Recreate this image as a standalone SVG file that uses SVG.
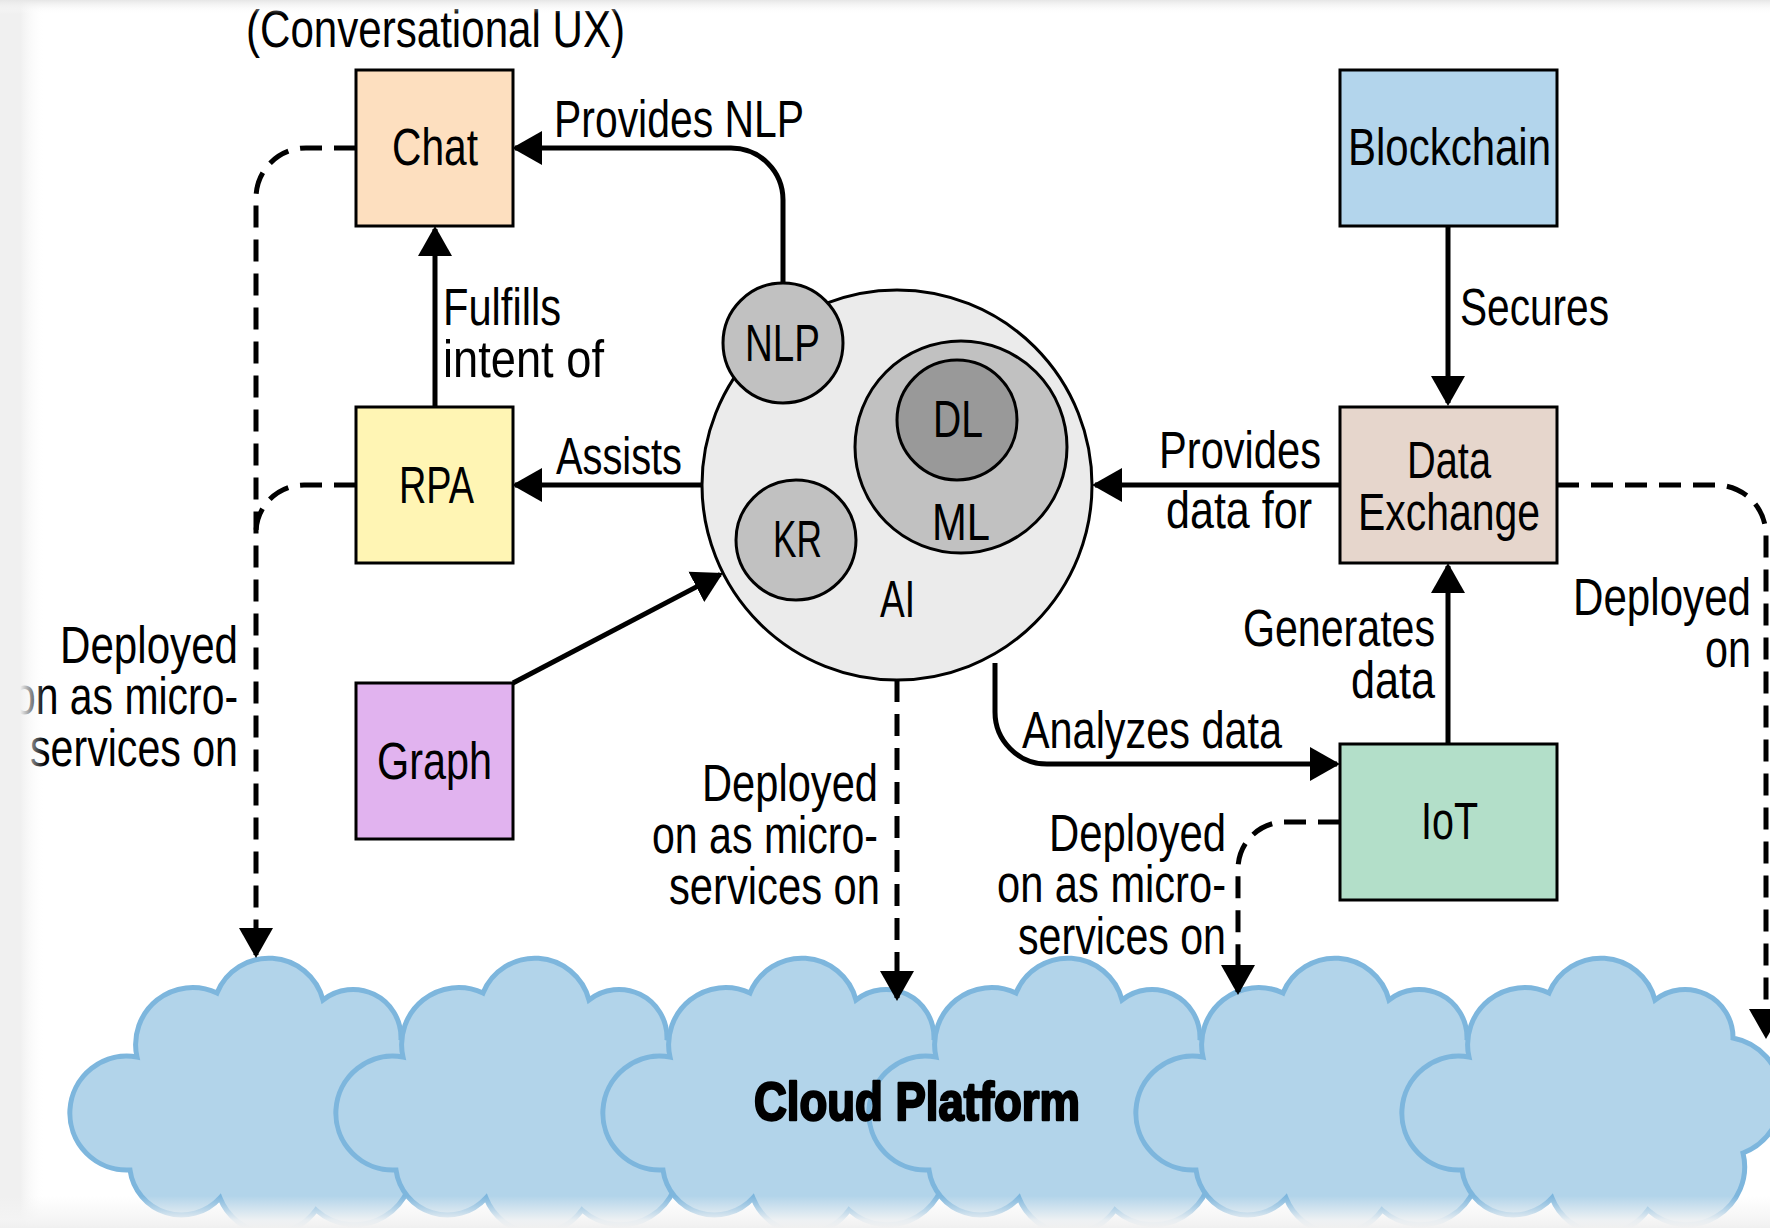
<svg xmlns="http://www.w3.org/2000/svg" xmlns:xlink="http://www.w3.org/1999/xlink" width="1770" height="1228" viewBox="0 0 1770 1228">
<style>
.box{stroke:#000;stroke-width:3}
.circ{stroke:#000;stroke-width:3}
.t{font-family:"Liberation Sans",Arial,sans-serif;font-size:51px;fill:#000}
.tb{font-family:"Liberation Sans",Arial,sans-serif;font-size:54px;font-weight:bold;fill:#000;stroke:#000;stroke-width:2.4;stroke-linejoin:round}
.edge{fill:none;stroke:#000;stroke-width:5}
.dash{stroke-dasharray:22 12}
.cl{fill:#b2d4ea;stroke:#7db6dd;stroke-width:5}
</style>
<defs>
<marker id="ah" markerUnits="userSpaceOnUse" viewBox="0 0 30 36" markerWidth="30" markerHeight="36" refX="27" refY="18" orient="auto">
<path d="M0,1 L30,18 L0,35 Z" fill="#000" stroke="none"/>
</marker>
<path id="cloudshape" d="M62,1170 A57,57 0 1 1 69,1057 A57,57 0 0 1 149,993 A56,56 0 0 1 255,1000 A48,48 0 0 1 333,1038 A60,60 0 0 1 343,1153 A58,58 0 0 1 248,1210 A55,55 0 0 1 152,1198 A52,52 0 0 1 62,1170 Z"/>
<linearGradient id="gl" x1="0" y1="0" x2="1" y2="0">
<stop offset="0" stop-color="#f0f0f0" stop-opacity="1"/>
<stop offset="0.45" stop-color="#f0f0f0" stop-opacity="1"/>
<stop offset="1" stop-color="#ffffff" stop-opacity="0"/>
</linearGradient>
<linearGradient id="gt" x1="0" y1="0" x2="0" y2="1">
<stop offset="0" stop-color="#e6e6e6" stop-opacity="1"/>
<stop offset="1" stop-color="#ffffff" stop-opacity="0"/>
</linearGradient>
<linearGradient id="gb" x1="0" y1="0" x2="0" y2="1">
<stop offset="0" stop-color="#f4f4f4" stop-opacity="0"/>
<stop offset="0.75" stop-color="#f4f4f4" stop-opacity="0.9"/>
<stop offset="1" stop-color="#f0f0f0" stop-opacity="1"/>
</linearGradient>
</defs>
<rect x="0" y="0" width="1770" height="1228" fill="#ffffff"/>

<g id="cloud">
<use xlink:href="#cloudshape" href="#cloudshape" class="cl" transform="translate(68,0)"/>
<use xlink:href="#cloudshape" href="#cloudshape" class="cl" transform="translate(334,0)"/>
<use xlink:href="#cloudshape" href="#cloudshape" class="cl" transform="translate(601,0)"/>
<use xlink:href="#cloudshape" href="#cloudshape" class="cl" transform="translate(867,0)"/>
<use xlink:href="#cloudshape" href="#cloudshape" class="cl" transform="translate(1134,0)"/>
<use xlink:href="#cloudshape" href="#cloudshape" class="cl" transform="translate(1400,0)"/>
<text class="tb" x="754" y="1120" textLength="326" lengthAdjust="spacingAndGlyphs">Cloud Platform</text>
</g>

<g id="connectors">
<path class="edge" d="M783,283 L783,200 A52,52 0 0 0 731,148 L515,148" marker-end="url(#ah)"/>
<path class="edge" d="M435,407 L435,229" marker-end="url(#ah)"/>
<path class="edge" d="M702,485 L515,485" marker-end="url(#ah)"/>
<path class="edge" d="M513,683 L720.3,574.4" marker-end="url(#ah)"/>
<path class="edge" d="M1448,226 L1448,403" marker-end="url(#ah)"/>
<path class="edge" d="M1340,485 L1095,485" marker-end="url(#ah)"/>
<path class="edge" d="M1448,743 L1448,566" marker-end="url(#ah)"/>
<path class="edge" d="M995,663 L995,712 A52,52 0 0 0 1047,764 L1337,764" marker-end="url(#ah)"/>
<path class="edge dash" d="M356,148 L306,148 A50,50 0 0 0 256,198 L256,955" marker-end="url(#ah)"/>
<path class="edge dash" d="M356,485 L304,485 A48,48 0 0 0 256,533"/>
<path class="edge dash" d="M897,680 L897,998" marker-end="url(#ah)"/>
<path class="edge dash" d="M1340,822 L1285,822 A47,47 0 0 0 1238,869 L1238,992" marker-end="url(#ah)"/>
<path class="edge dash" d="M1557,485 L1716,485 A50,50 0 0 1 1766,535 L1766,1036" marker-end="url(#ah)"/>
</g>

<g id="chat">
<rect class="box" x="356" y="70" width="157" height="156" fill="#fddfbf"/>
<text class="t" x="392" y="165" textLength="86" lengthAdjust="spacingAndGlyphs">Chat</text>
<text class="t" x="246" y="47" textLength="379" lengthAdjust="spacingAndGlyphs">(Conversational UX)</text>
</g>
<g id="rpa">
<rect class="box" x="356" y="407" width="157" height="156" fill="#fff5b4"/>
<text class="t" x="399" y="503" textLength="75" lengthAdjust="spacingAndGlyphs">RPA</text>
</g>
<g id="graph">
<rect class="box" x="356" y="683" width="157" height="156" fill="#e1b3ef"/>
<text class="t" x="377" y="779" textLength="115" lengthAdjust="spacingAndGlyphs">Graph</text>
</g>
<g id="blockchain">
<rect class="box" x="1340" y="70" width="217" height="156" fill="#b3d5ec"/>
<text class="t" x="1348" y="165" textLength="203" lengthAdjust="spacingAndGlyphs">Blockchain</text>
</g>
<g id="dataexchange">
<rect class="box" x="1340" y="407" width="217" height="156" fill="#e6d6cc"/>
<text class="t" x="1407" y="478" textLength="84" lengthAdjust="spacingAndGlyphs">Data</text>
<text class="t" x="1358" y="530" textLength="182" lengthAdjust="spacingAndGlyphs">Exchange</text>
</g>
<g id="iot">
<rect class="box" x="1340" y="744" width="217" height="156" fill="#b3dfc9"/>
<text class="t" x="1421" y="839" textLength="57" lengthAdjust="spacingAndGlyphs">IoT</text>
</g>
<g id="ai">
<circle class="circ" cx="897" cy="485" r="195" fill="#ebebeb"/>
<text class="t" x="880" y="617" textLength="35" lengthAdjust="spacingAndGlyphs">AI</text>
</g>
<g id="nlp">
<circle class="circ" cx="783" cy="343" r="60" fill="#c1c1c1"/>
<text class="t" x="745" y="361" textLength="75" lengthAdjust="spacingAndGlyphs">NLP</text>
</g>
<g id="kr">
<circle class="circ" cx="796" cy="540" r="60" fill="#c1c1c1"/>
<text class="t" x="773" y="557" textLength="49" lengthAdjust="spacingAndGlyphs">KR</text>
</g>
<g id="ml">
<circle class="circ" cx="961" cy="447" r="106" fill="#c1c1c1"/>
<text class="t" x="932" y="540" textLength="58" lengthAdjust="spacingAndGlyphs">ML</text>
</g>
<g id="dl">
<circle class="circ" cx="957" cy="420" r="60" fill="#999999"/>
<text class="t" x="933" y="437" textLength="50" lengthAdjust="spacingAndGlyphs">DL</text>
</g>

<g id="edge-labels">
<text class="t" x="554" y="137" textLength="250" lengthAdjust="spacingAndGlyphs">Provides NLP</text>
<text class="t" x="443" y="325" textLength="118" lengthAdjust="spacingAndGlyphs">Fulfills</text>
<text class="t" x="443" y="377" textLength="161" lengthAdjust="spacingAndGlyphs">intent of</text>
<text class="t" x="556" y="474" textLength="126" lengthAdjust="spacingAndGlyphs">Assists</text>
<text class="t" x="1460" y="325" textLength="149" lengthAdjust="spacingAndGlyphs">Secures</text>
<text class="t" x="1159" y="468" textLength="162" lengthAdjust="spacingAndGlyphs">Provides</text>
<text class="t" x="1166" y="528" textLength="146" lengthAdjust="spacingAndGlyphs">data for</text>
<text class="t" x="1022" y="748" textLength="260" lengthAdjust="spacingAndGlyphs">Analyzes data</text>
<text class="t" x="1243" y="646" textLength="192" lengthAdjust="spacingAndGlyphs">Generates</text>
<text class="t" x="1351" y="698" textLength="84" lengthAdjust="spacingAndGlyphs">data</text>
<text class="t" x="1573" y="615" textLength="178" lengthAdjust="spacingAndGlyphs">Deployed</text>
<text class="t" x="1705" y="667" textLength="46" lengthAdjust="spacingAndGlyphs">on</text>
<text class="t" x="60" y="663" textLength="178" lengthAdjust="spacingAndGlyphs">Deployed</text>
<text class="t" x="13" y="714" textLength="225" lengthAdjust="spacingAndGlyphs">on as micro-</text>
<text class="t" x="30" y="766" textLength="208" lengthAdjust="spacingAndGlyphs">services on</text>
<text class="t" x="702" y="801" textLength="176" lengthAdjust="spacingAndGlyphs">Deployed</text>
<text class="t" x="652" y="853" textLength="226" lengthAdjust="spacingAndGlyphs">on as micro-</text>
<text class="t" x="669" y="904" textLength="211" lengthAdjust="spacingAndGlyphs">services on</text>
<text class="t" x="1049" y="851" textLength="177" lengthAdjust="spacingAndGlyphs">Deployed</text>
<text class="t" x="997" y="902" textLength="229" lengthAdjust="spacingAndGlyphs">on as micro-</text>
<text class="t" x="1018" y="954" textLength="208" lengthAdjust="spacingAndGlyphs">services on</text>
</g>

<rect x="0" y="0" width="45" height="1228" fill="url(#gl)"/>
<rect x="0" y="0" width="1770" height="14" fill="url(#gt)"/>
<rect x="0" y="1196" width="1770" height="32" fill="url(#gb)"/>
</svg>
